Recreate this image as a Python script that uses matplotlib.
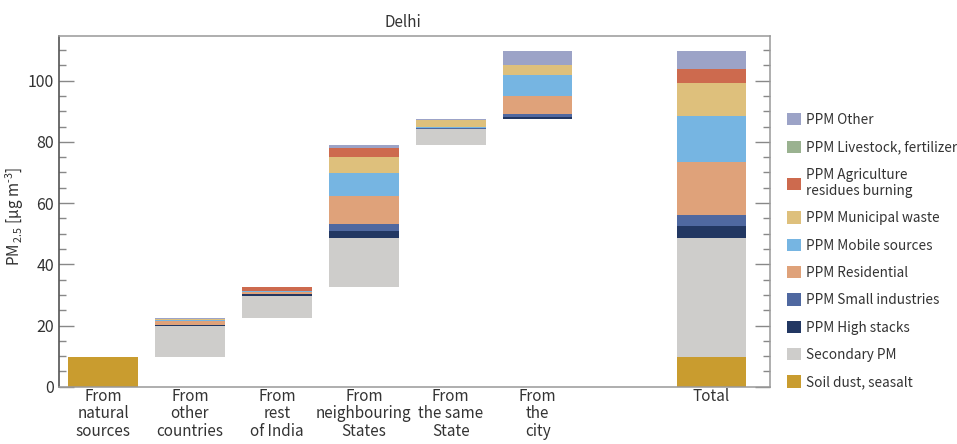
import numpy as np
import matplotlib
matplotlib.use('Agg')
import matplotlib.pyplot as plt

plt.rcParams['font.family'] = ['Noto Sans CJK SC', 'DejaVu Sans']
plt.rcParams['mathtext.fontset'] = 'custom'
plt.rcParams['mathtext.rm'] = 'Noto Sans CJK SC'
plt.rcParams['mathtext.it'] = 'Noto Sans CJK SC'

# Source regions (waterfall bars), then the total
sources = ['From\nnatural\nsources', 'From\nother\ncountries', 'From\nrest\nof India',
           'From\nneighbouring\nStates', 'From\nthe same\nState', 'From\nthe\ncity']
total_label = 'Total'

# Contributions per component, ug/m3, one value per source region
soil_dust   = [9.7, 0.0, 0.0, 0.0, 0.0, 0.0]
secondary   = [0.0, 10.2, 7.3, 16.1, 5.3, 0.0]
high_stacks = [0.0, 0.2, 0.5, 2.3, 0.1, 0.8]
small_ind   = [0.0, 0.1, 0.1, 2.2, 0.3, 0.9]
residential = [0.0, 1.4, 0.6, 9.2, 0.1, 6.0]
mobile      = [0.0, 0.2, 0.3, 7.3, 0.2, 6.9]
municipal   = [0.0, 0.3, 0.1, 5.4, 2.3, 3.0]
agri_burn   = [0.0, 0.1, 1.3, 2.9, 0.0, 0.0]
livestock   = [0.0, 0.0, 0.0, 0.0, 0.0, 0.0]
other       = [0.0, 0.2, 0.0, 0.9, 0.2, 4.7]

components = [
    ('Soil dust, seasalt', soil_dust, '#c99c2f'),
    ('Secondary PM', secondary, '#cecdcb'),
    ('PPM High stacks', high_stacks, '#223762'),
    ('PPM Small industries', small_ind, '#4f68a0'),
    ('PPM Residential', residential, '#dfa27a'),
    ('PPM Mobile sources', mobile, '#76b5e2'),
    ('PPM Municipal waste', municipal, '#dec07c'),
    ('PPM Agriculture\nresidues burning', agri_burn, '#cd6a4e'),
    ('PPM Livestock, fertilizer', livestock, '#9ab290'),
    ('PPM Other', other, '#9ca3c7'),
]

data = np.array([c[1] for c in components])  # components x sources
bar_tot = data.sum(axis=0)
bases = np.concatenate([[0], np.cumsum(bar_tot)[:-1]])
totals = data.sum(axis=1)

xs = np.arange(len(sources))
x_total = len(sources) + 1
width = 0.8
fs = 11

fig = plt.figure(figsize=(9.57, 4.44), dpi=100)
ax = fig.add_axes([0.062, 0.129, 0.7426, 0.7906])

bottom = bases.copy()
tot_bottom = 0.0
handles = []
for (name, vals, col), tv in zip(components, totals):
    vals = np.array(vals)
    h = ax.bar(xs, vals, width, bottom=bottom, color=col, linewidth=0, label=name)
    ax.bar(x_total, tv, width, bottom=tot_bottom, color=col, linewidth=0)
    bottom = bottom + vals
    tot_bottom += tv
    handles.append(h)

ax.set_xlim(-0.503, 7.673)
ax.set_ylim(0, 114.7)
ax.set_yticks(np.arange(0, 101, 20))
ax.set_yticks(np.arange(0, 111, 5), minor=True)
ax.set_xticks(list(xs) + [x_total])
ax.set_xticklabels(sources + [total_label], fontsize=fs, linespacing=1.02, va='top')
ax.tick_params(axis='x', length=0, pad=1, colors='#333333')
ax.tick_params(axis='y', which='major', direction='in', length=10.5, width=1,
               color='#888888', labelsize=fs + 0.5, labelcolor='#333333', pad=4,
               right=True)
ax.tick_params(axis='y', which='minor', direction='in', length=5.2, width=1,
               color='#888888', right=True)

for s in ['top', 'right', 'bottom']:
    ax.spines[s].set_color('#999999')
ax.spines['left'].set_color('#444444')
for s in ax.spines.values():
    s.set_linewidth(1.1)

ax.set_title('Delhi', fontsize=fs, x=0.484, pad=6, color='#333333')
ax.set_ylabel(r'PM$_{\,2.5}$ [μg m$^{\text{-}3}$]', fontsize=fs, color='#333333')
ax.yaxis.set_label_coords(-0.047, 0.484)

leg = fig.legend(handles[::-1], [c[0] for c in components][::-1],
                 loc='upper left', bbox_to_anchor=(787 / 957, 1 - 113 / 444),
                 frameon=False, fontsize=9.8, handlelength=1.0, handleheight=1.0,
                 handletextpad=0.42, labelspacing=0.98, borderpad=0, borderaxespad=0)
for t in leg.get_texts():
    t.set_color('#333333')
    t.set_linespacing(1.2)

fig.savefig('out.png', dpi=100)
